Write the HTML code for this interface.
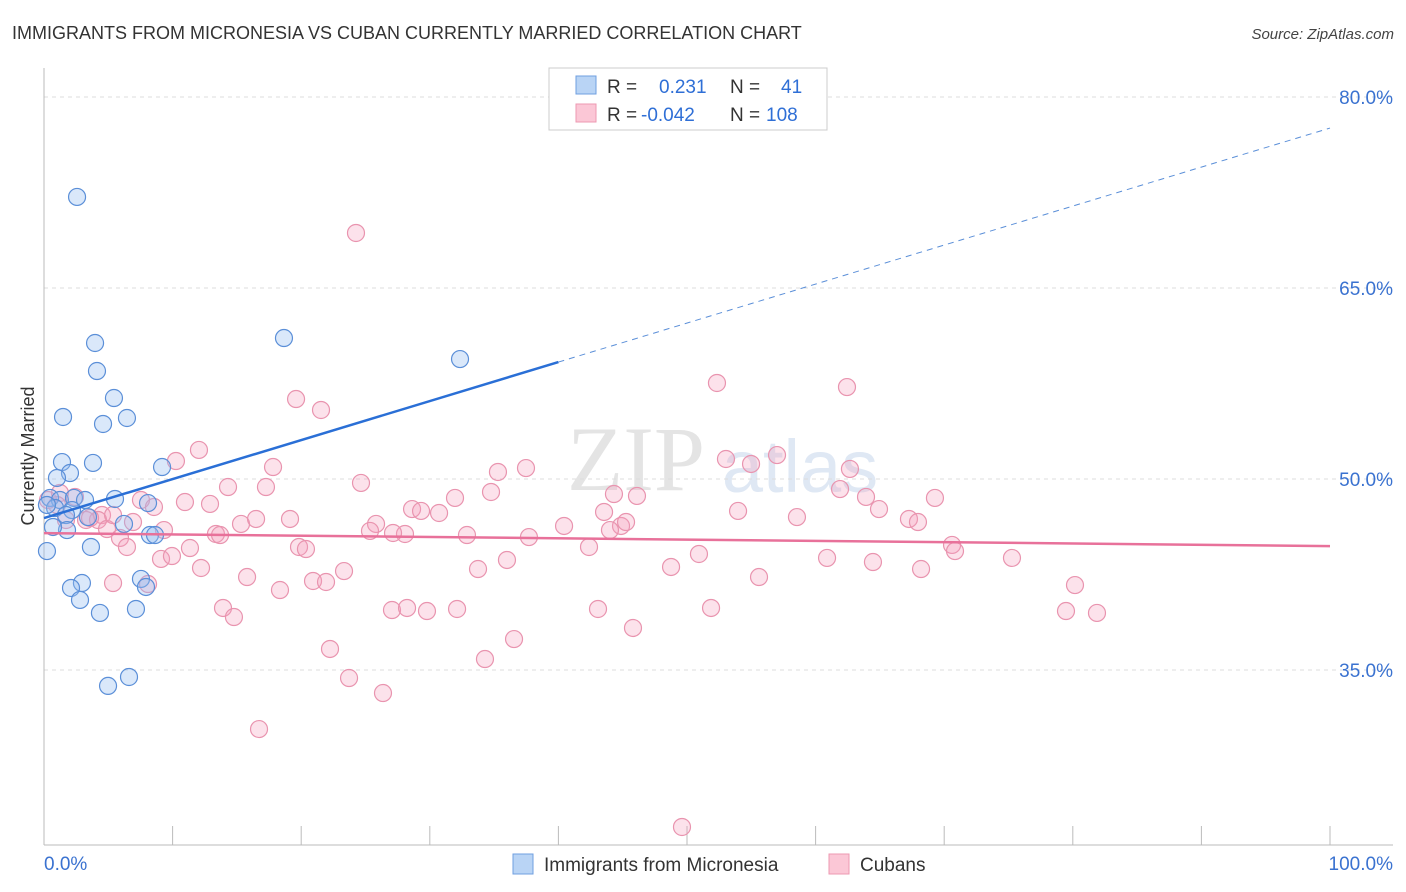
<!DOCTYPE html>
<html><head><meta charset="utf-8"><style>
body{margin:0;background:#fff;font-family:"Liberation Sans",sans-serif}
svg{display:block}
</style></head><body>
<svg id="chart" width="1406" height="892" viewBox="0 0 1406 892" xmlns="http://www.w3.org/2000/svg" font-family="Liberation Sans, sans-serif">
<text x="12" y="39" font-size="18" fill="#333">IMMIGRANTS FROM MICRONESIA VS CUBAN CURRENTLY MARRIED CORRELATION CHART</text>
<text x="1394" y="39" font-size="15" fill="#444" text-anchor="end" font-style="italic">Source: ZipAtlas.com</text>
<g>
<text x="636" y="490" font-size="92" fill="#e4e4e4" text-anchor="middle" font-family="Liberation Serif, serif">ZIP</text>
<text x="800" y="492" font-size="74" fill="#dfe8f4" text-anchor="middle">atlas</text>
</g>
<g id="grid"></g>
<g id="axes"></g>
<g id="pts"></g>
<g id="trends"></g>
<g>
<rect x="549" y="68" width="278" height="62" fill="#fff" stroke="#ccc"/>
<rect x="576" y="76" width="20" height="18" fill="#b9d4f5" stroke="#6f9fe0"/>
<rect x="576" y="104" width="20" height="18" fill="#fbc7d6" stroke="#ee98b2"/>
<text x="607" y="93" font-size="19" fill="#333">R =</text>
<text x="659" y="93" font-size="19" fill="#2f6fd6">0.231</text>
<text x="730" y="93" font-size="19" fill="#333">N =</text>
<text x="781" y="93" font-size="19" fill="#2f6fd6">41</text>
<text x="607" y="121" font-size="19" fill="#333">R =</text>
<text x="641" y="121" font-size="19" fill="#2f6fd6">-0.042</text>
<text x="730" y="121" font-size="19" fill="#333">N =</text>
<text x="766" y="121" font-size="19" fill="#2f6fd6">108</text>
</g>
<g>
<rect x="513" y="854" width="20" height="20" fill="#b9d4f5" stroke="#6f9fe0"/>
<text x="544" y="871" font-size="19" fill="#333">Immigrants from Micronesia</text>
<rect x="829" y="854" width="20" height="20" fill="#fbc7d6" stroke="#ee98b2"/>
<text x="860" y="871" font-size="19" fill="#333">Cubans</text>
</g>
<text transform="translate(34,456) rotate(-90)" font-size="18" fill="#333" text-anchor="middle">Currently Married</text>
</svg>
<script>
const yTicks=[80,65,50,35];
const yTickLabels=["80.0%","65.0%","50.0%","35.0%"];
const blueX=[2.57,3.97,4.12,5.44,1.48,4.59,6.45,1.40,3.81,2.02,1.01,9.18,0.47,1.24,2.33,3.19,5.52,8.09,0.86,2.18,3.42,1.71,6.22,1.79,0.70,8.24,8.63,3.65,0.23,2.95,2.10,7.54,7.93,2.80,4.35,7.15,6.61,4.98,18.66,32.35,0.23];
const blueY=[72.15,60.68,58.48,56.36,54.87,54.32,54.79,51.33,51.26,50.47,50.08,50.94,48.51,48.35,48.51,48.35,48.43,48.11,47.72,47.56,47.01,47.17,46.47,45.99,46.23,45.60,45.60,44.66,44.34,41.83,41.44,42.15,41.52,40.50,39.48,39.79,34.45,33.75,61.07,59.42,47.96];
const pinkX=[24.26,52.33,62.44,19.60,21.54,12.05,10.26,17.81,53.03,54.98,57.00,62.67,37.48,35.30,24.65,14.31,17.26,7.54,10.96,12.91,8.55,34.76,31.96,44.32,46.11,61.90,63.92,69.28,1.24,2.41,4.51,4.20,3.27,6.92,4.90,9.33,15.32,16.49,19.13,25.82,28.62,29.32,30.72,43.55,44.87,45.26,44.01,53.97,58.55,64.93,67.26,67.96,40.44,25.35,28.07,32.89,37.71,13.37,5.91,6.45,11.35,19.83,20.37,9.10,9.95,12.21,15.79,18.35,20.92,21.93,23.33,33.75,36.00,42.38,48.76,50.93,55.60,60.89,64.46,68.20,70.61,70.84,75.27,80.17,5.37,8.09,13.92,14.77,27.06,28.23,29.78,32.12,43.08,51.87,79.47,81.88,22.24,36.55,45.80,34.29,23.72,26.36,16.72,49.61,1.01,3.58,0.31,1.71,5.37,13.69,27.14];
const pinkY=[69.32,57.54,57.22,56.28,55.42,52.28,51.41,50.94,51.57,51.18,51.88,50.79,50.86,50.55,49.69,49.37,49.37,48.35,48.19,48.04,47.80,48.98,48.51,48.82,48.67,49.21,48.59,48.51,48.90,48.59,47.17,46.78,46.78,46.62,46.07,45.99,46.47,46.86,46.86,46.47,47.64,47.49,47.33,47.41,46.31,46.62,45.99,47.49,47.01,47.64,46.86,46.62,46.31,45.92,45.68,45.60,45.44,45.68,45.37,44.66,44.58,44.66,44.50,43.72,43.95,43.01,42.30,41.28,41.99,41.91,42.77,42.93,43.64,44.66,43.09,44.11,42.30,43.80,43.48,42.93,44.82,44.34,43.80,41.67,41.83,41.75,39.87,39.16,39.71,39.87,39.63,39.79,39.79,39.87,39.63,39.48,36.65,37.43,38.30,35.86,34.37,33.19,30.36,22.67,47.96,46.94,48.35,46.78,47.17,45.60,45.76];
const blueTrend=[46.93,77.56];
const pinkTrend=[45.75,44.73];
const NS="http://www.w3.org/2000/svg";
const X=v=>44+v*12.86, Y=v=>97+(80-v)*12.733;
function mk(tag,attrs,parent){const e=document.createElementNS(NS,tag);for(const k in attrs)e.setAttribute(k,attrs[k]);parent.appendChild(e);return e;}
const grid=document.getElementById('grid'),axes=document.getElementById('axes'),pts=document.getElementById('pts'),tr=document.getElementById('trends');
yTicks.forEach((t,i)=>{
 const l=mk('line',{x1:44,x2:1393,y1:Y(t),y2:Y(t),stroke:'#ddd','stroke-dasharray':'4,4'},grid);
 
 
 const tx=mk('text',{x:1393,y:Y(t)+7,'font-size':19,fill:'#3a72d0','text-anchor':'end'},axes);
 tx.textContent=yTickLabels[i];
 
 
});
mk('line',{x1:44,x2:44,y1:68,y2:845,stroke:'#bbb'},axes);
mk('line',{x1:44,x2:1393,y1:845,y2:845,stroke:'#bbb'},axes);
for(let i=0;i<=10;i++){const t=mk('line',{x1:X(i*10),x2:X(i*10),y1:826,y2:845,stroke:'#bbb'},axes);}
const xl0=mk('text',{x:44,y:870,'font-size':19,fill:'#3a72d0'},axes);xl0.textContent='0.0%';


const xl1=mk('text',{x:1393,y:870,'font-size':19,fill:'#3a72d0','text-anchor':'end'},axes);xl1.textContent='100.0%';


pinkX.forEach((x,i)=>{const c=mk('circle',{cx:X(x),cy:Y(pinkY[i]),r:8.5,fill:'rgba(246,160,188,0.3)',stroke:'#e994af','stroke-width':1.2},pts);
 
 });
blueX.forEach((x,i)=>{const c=mk('circle',{cx:X(x),cy:Y(blueY[i]),r:8.5,fill:'rgba(150,190,240,0.35)',stroke:'#5b8fd8','stroke-width':1.2},pts);
 
 });
const bx=40, by=blueTrend[0]+(blueTrend[1]-blueTrend[0])*bx/100;
const b1=mk('line',{x1:X(0),y1:Y(blueTrend[0]),x2:X(bx),y2:Y(by),stroke:'#2a6fd6','stroke-width':2.5},tr);


const b2=mk('line',{x1:X(bx),y1:Y(by),x2:X(100),y2:Y(blueTrend[1]),stroke:'#5b8fd8','stroke-width':1,'stroke-dasharray':'6,5'},tr);


const p1=mk('line',{x1:X(0),y1:Y(pinkTrend[0]),x2:X(100),y2:Y(pinkTrend[1]),stroke:'#e8719a','stroke-width':2.5},tr);


</script>
</body></html>
